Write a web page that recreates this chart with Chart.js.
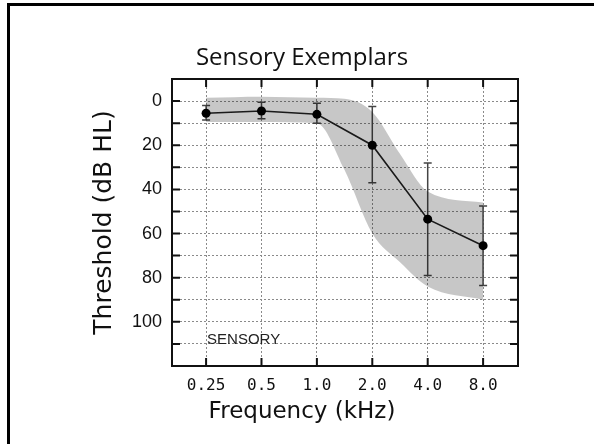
<!DOCTYPE html>
<html>
<head>
<meta charset="utf-8">
<script src="https://cdn.jsdelivr.net/npm/chart.js@4"></script>
<style>
  body { margin: 0; background: #fff; }
  #wrap { position: absolute; left: 0; top: 0; width: 594px; height: 444px; }
  #frame { position: absolute; left: 7px; top: 3px; width: 587px; height: 441px;
           border-top: 3px solid #000; border-left: 3px solid #000; box-sizing: border-box; }
</style>
</head>
<body>
<div id="frame"></div>
<div id="wrap"><canvas id="audiogram"></canvas></div>
<script>
// 🔹 DATA
const freqKHz = [0.25, 0.5, 1.0, 2.0, 4.0, 8.0];
const freqLabels = ["0.25", "0.5", "1.0", "2.0", "4.0", "8.0"];
const meanThreshold = [5.5, 4.5, 6, 20, 53.5, 65.5];
const errTop = [2, 0.5, 1, 2.5, 28, 47.5];
const errBottom = [8.6, 8, 10, 37, 79, 83.5];

// shaded range of the exemplars
const bandFreq = [0.25, 0.5, 1.0, 1.41, 2.0, 2.83, 4.0, 8.0];
const bandBest = [-1.5, -2, -1.5, -1, 5, 24, 41, 46];
const bandWorst = [9.5, 9.5, 10, 31, 60, 73, 84, 90];

const yTickLabels = ["0", "20", "40", "60", "80", "100"];
const cornerLabel = "SENSORY";


// 🔹 error bars, drawn just before the mean line
const errorBars = {
    id: "errorBars",
    beforeDatasetDraw(chart, args) {
        if (args.index !== 2) return;
        const { ctx, scales: { x, y } } = chart;
        ctx.save();
        ctx.strokeStyle = "#444";
        ctx.lineWidth = 1.5;
        freqKHz.forEach((f, i) => {
            const px = x.getPixelForValue(f);
            const y1 = y.getPixelForValue(errTop[i]);
            const y2 = y.getPixelForValue(errBottom[i]);
            ctx.beginPath();
            ctx.moveTo(px, y1); ctx.lineTo(px, y2);
            ctx.moveTo(px - 4, y1); ctx.lineTo(px + 4, y1);
            ctx.moveTo(px - 4, y2); ctx.lineTo(px + 4, y2);
            ctx.stroke();
        });
        ctx.restore();
    }
};

// 🔹 box round the plot with inward ticks, plus the corner label
const plotFrame = {
    id: "plotFrame",
    afterDatasetsDraw(chart) {
        const { ctx, chartArea: a, scales: { x, y } } = chart;
        ctx.save();
        ctx.strokeStyle = "#111";
        ctx.lineWidth = 2;
        ctx.strokeRect(a.left, a.top, a.right - a.left, a.bottom - a.top);

        ctx.beginPath();
        y.ticks.forEach(t => {
            const py = y.getPixelForValue(t.value);
            ctx.moveTo(a.left, py); ctx.lineTo(a.left + 8, py);
            ctx.moveTo(a.right, py); ctx.lineTo(a.right - 8, py);
        });
        x.ticks.forEach(t => {
            const px = x.getPixelForValue(t.value);
            ctx.moveTo(px, a.top); ctx.lineTo(px, a.top + 8);
            ctx.moveTo(px, a.bottom); ctx.lineTo(px, a.bottom - 8);
        });
        ctx.stroke();

        ctx.fillStyle = "#222";
        ctx.font = "15px 'Liberation Sans', Arial, sans-serif";
        ctx.textAlign = "left";
        ctx.textBaseline = "middle";
        ctx.fillText(cornerLabel, x.getPixelForValue(freqKHz[0]) + 1, y.getPixelForValue(108));
        ctx.restore();
    }
};

const toPoints = (xs, ys) => xs.map((v, i) => ({ x: v, y: ys[i] }));

new Chart(document.getElementById("audiogram"), {
    type: "line",
    data: {
        datasets: [
            {
                data: toPoints(bandFreq, bandBest),
                borderWidth: 0,
                pointRadius: 0,
                fill: false,
                cubicInterpolationMode: "monotone"
            },
            {
                data: toPoints(bandFreq, bandWorst),
                borderWidth: 0,
                pointRadius: 0,
                fill: "-1",
                backgroundColor: "rgba(0,0,0,0.22)",
                cubicInterpolationMode: "monotone"
            },
            {
                data: toPoints(freqKHz, meanThreshold),
                borderColor: "#222",
                borderWidth: 1.6,
                pointRadius: 4.5,
                pointBorderWidth: 0,
                pointBackgroundColor: "#000",
                fill: false,
                tension: 0
            }
        ]
    },
    options: {
        responsive: true,
        maintainAspectRatio: false,
        animation: false,
        devicePixelRatio: 1,
        layout: { padding: { left: 86, right: 76, top: 0, bottom: 0 } },
        plugins: {
            legend: { display: false },
            tooltip: { enabled: false },
            title: {
                display: true,
                text: "Sensory Exemplars",
                color: "#111",
                font: { family: "'Open Sans', sans-serif", size: 24, weight: "normal" },
                padding: { top: 44.1, bottom: 6.1 }
            },
            // x-axis caption sits left of the plot centre in the original
            subtitle: {
                display: true,
                position: "bottom",
                text: "Frequency (kHz)",
                color: "#111",
                font: { family: "'DejaVu Sans', sans-serif", size: 23, weight: "normal" },
                padding: { top: 2.2, bottom: 18.2 }
            }
        },
        scales: {
            x: {
                type: "logarithmic",
                min: 0.1632,
                max: 12.38,
                afterBuildTicks: scale => {
                    scale.ticks = freqKHz.map(f => ({ value: f }));
                },
                afterFit: scale => { scale.height = 30; },
                grid: { color: "#8a8a8a", lineWidth: 1, drawTicks: false },
                border: { display: false, dash: [2, 2] },
                ticks: {
                    autoSkip: false,
                    maxRotation: 0,
                    padding: 10.4,
                    color: "#111",
                    font: { family: "'DejaVu Sans Mono', monospace", size: 16 },
                    callback: (value, index) => freqLabels[index]
                }
            },
            y: {
                type: "linear",
                reverse: true,
                min: -10,
                max: 120,
                afterFit: scale => { scale.width = 86; },
                grid: { color: "#8a8a8a", lineWidth: 1, drawTicks: false },
                border: { display: false, dash: [2, 2] },
                ticks: {
                    stepSize: 10,
                    autoSkip: false,
                    padding: 10,
                    color: "#111",
                    font: { family: "'Liberation Sans', Arial, sans-serif", size: 18 },
                    callback: v => (v >= 0 && v <= 100 && v % 20 === 0) ? yTickLabels[v / 20] : ""
                },
                title: {
                    display: true,
                    text: "Threshold (dB HL)",
                    color: "#111",
                    font: { family: "'DejaVu Sans', sans-serif", size: 25 },
                    padding: { top: 3, bottom: 0 }
                }
            }
        }
    },
    plugins: [errorBars, plotFrame]
});
</script>
</body>
</html>
